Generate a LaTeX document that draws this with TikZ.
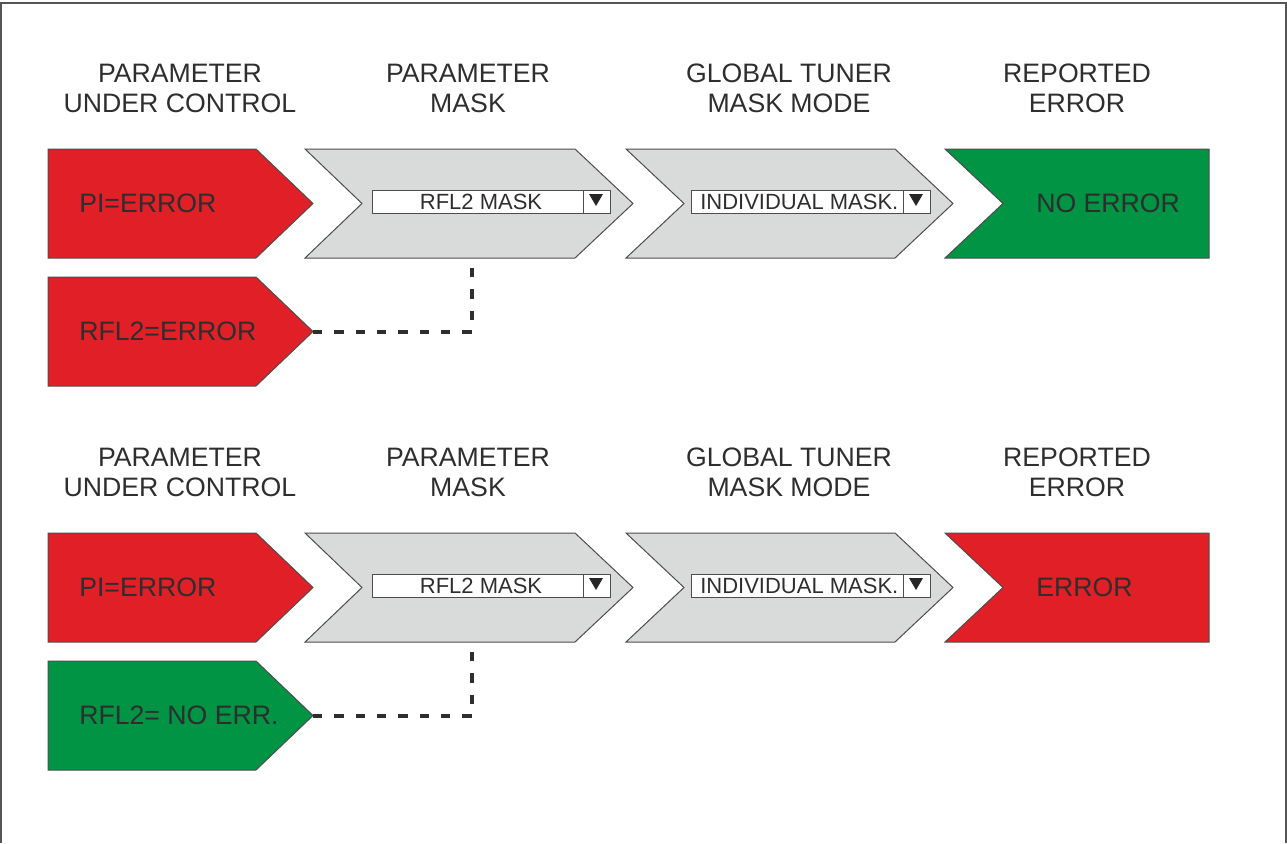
\documentclass[tikz,border=0pt]{standalone}
\usepackage{fontspec}
\setmainfont{Liberation Sans}
\definecolor{cred}{HTML}{E11F26}
\definecolor{cgreen}{HTML}{009444}
\definecolor{cgray}{HTML}{D9DADA}
\definecolor{cline}{HTML}{4D4D4D}
\definecolor{ctext}{HTML}{2E2E2E}
\definecolor{cframe}{HTML}{555555}
\tikzset{
  head/.style={align=center, inner sep=0pt, text=ctext, font=\fontsize{20}{22.5}\selectfont},
  lbl/.style={anchor=west, inner sep=0pt, text=ctext, font=\fontsize{20}{24}\selectfont},
  ddtext/.style={inner sep=0pt, text=ctext, font=\fontsize{16.5}{20}\selectfont},
  shapebox/.style={draw=cline, line width=0.75pt, line join=miter},
  ddbox/.style={draw=cline, line width=0.75pt, fill=white},
  dotline/.style={draw=ctext, line width=3pt, dash pattern=on 7pt off 9pt}
}
\newcommand\myrow[6]{%
\begin{scope}[shift={(0,#1)}]
  \node[head] (#2h1) at (180,88) {PARAMETER\\UNDER CONTROL};
  \node[head] (#2h2) at (468,88) {PARAMETER\\MASK};
  \node[head] (#2h3) at (789,88) {GLOBAL TUNER\\MASK MODE};
  \node[head] (#2h4) at (1077,88) {REPORTED\\ERROR};
  % parameter under control
  \draw[shapebox, fill=cred] (48,149) -- (256,149) -- (313,203.5) -- (256,258) -- (48,258) -- cycle;
  \node[lbl] (#2pa) at (79,203.5) {PI=ERROR};
  \draw[shapebox, fill=#4] (48,277) -- (256,277) -- (313,331.5) -- (256,386) -- (48,386) -- cycle;
  \node[lbl] (#2pb) at (79,331.5) {#3};
  \coordinate (#2tip) at (313,331.5);
  % parameter mask
  \draw[shapebox, fill=cgray] (305,149) -- (575,149) -- (633,203.5) -- (575,258) -- (305,258) -- (362,203.5) -- cycle;
  \coordinate (#2mb) at (472,258);
  \draw[ddbox] (372,190) rectangle (610,213);
  \draw[cline, line width=0.75pt] (583,190) -- (583,213);
  \fill[black!85] (589,194) -- (603,194) -- (596,206) -- cycle;
  \node[ddtext] (#2m) at (481,201.5) {RFL2 MASK};
  % global tuner mask mode
  \draw[shapebox, fill=cgray] (626,149) -- (895,149) -- (953,203.5) -- (895,258) -- (626,258) -- (684,203.5) -- cycle;
  \draw[ddbox] (691,190) rectangle (930,213);
  \draw[cline, line width=0.75pt] (903,190) -- (903,213);
  \fill[black!85] (909,194) -- (923,194) -- (916,206) -- cycle;
  \node[ddtext, anchor=west] (#2g) at (700,201.5) {INDIVIDUAL MASK.};
  % reported error
  \draw[shapebox, fill=#6] (945,149) -- (1209,149) -- (1209,258) -- (945,258) -- (1003,203.5) -- cycle;
  \node[lbl] (#2r) at (1036,203.5) {#5};
  % connector
  \draw[dotline] (#2tip) -| (#2mb);
\end{scope}}
\begin{document}
\begin{tikzpicture}[x=0.75pt, y=-0.75pt]
\useasboundingbox (0,0) rectangle (1287,843);
\draw[cframe, line width=1.5pt] (1,843) -- (1,3) -- (1286,3) -- (1286,843);
\myrow{0}{a}{RFL2=ERROR}{cred}{NO ERROR}{cgreen}
\myrow{384}{b}{RFL2= NO ERR.}{cgreen}{ERROR}{cred}
\end{tikzpicture}
\end{document}
